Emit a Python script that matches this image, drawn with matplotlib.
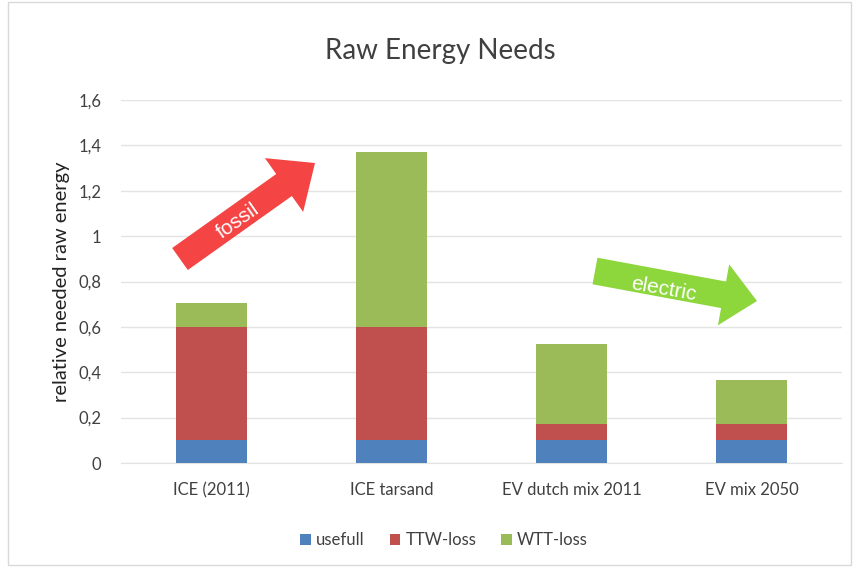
import matplotlib
matplotlib.use("Agg")
import matplotlib.pyplot as plt
import matplotlib.patches as mpatches
import numpy as np

plt.rcParams['font.family'] = ['Lato', 'DejaVu Sans']

categories = ["ICE (2011)", "ICE tarsand", "EV dutch mix 2011", "EV mix 2050"]
usefull = [0.10, 0.10, 0.10, 0.10]
ttw_loss = [0.50, 0.50, 0.07, 0.07]
wtt_loss = [0.105, 0.77, 0.355, 0.195]
series_names = ["usefull", "TTW-loss", "WTT-loss"]
colors = ["#4F81BD", "#C0504D", "#9BBB59"]
yticks = [0, 0.2, 0.4, 0.6, 0.8, 1.0, 1.2, 1.4, 1.6]
ytick_labels = ["0", "0,2", "0,4", "0,6", "0,8", "1", "1,2", "1,4", "1,6"]

W, H = 859, 571
fig = plt.figure(figsize=(W / 100, H / 100), dpi=100)
fig.patch.set_facecolor("white")

ax = fig.add_axes([121 / W, 1 - 463 / H, 721 / W, 363 / H])
x = np.arange(len(categories))
bw = 0.395
b1 = ax.bar(x, usefull, bw, color=colors[0], label=series_names[0], zorder=3)
b2 = ax.bar(x, ttw_loss, bw, bottom=usefull, color=colors[1], label=series_names[1], zorder=3)
bottom2 = np.array(usefull) + np.array(ttw_loss)
b3 = ax.bar(x, wtt_loss, bw, bottom=bottom2, color=colors[2], label=series_names[2], zorder=3)

ax.set_xlim(-0.5, len(categories) - 0.5)
ax.set_ylim(0, 1.6)
ax.set_yticks(yticks)
ax.set_yticklabels(ytick_labels, fontsize=12, color="#404040")
ax.set_xticks(x)
ax.set_xticklabels(categories, fontsize=12, color="#404040")
ax.tick_params(axis="both", length=0)
ax.tick_params(axis="x", pad=14)
ax.tick_params(axis="y", pad=14)
ax.grid(axis="y", color="#e3e3e3", linewidth=1, zorder=0)
for s in ["top", "right", "left"]:
    ax.spines[s].set_visible(False)
ax.spines["bottom"].set_color("#e3e3e3")
ax.set_ylabel("relative needed raw energy", fontsize=14.5, color="#222222", labelpad=6)

fig.text(440 / W, 1 - 51 / H, "Raw Energy Needs", ha="center", va="center",
         fontsize=20, color="#404040")

leg = fig.legend(handles=[b1, b2, b3], labels=series_names, loc="center",
                 bbox_to_anchor=(444 / W, 1 - 540 / H), ncol=3, frameon=False,
                 fontsize=12, handlelength=0.65, handleheight=0.65,
                 columnspacing=1.5, handletextpad=0.3)
for t in leg.get_texts():
    t.set_color("#404040")

# overlay for annotation arrows (pixel coordinates)
ov = fig.add_axes([0, 0, 1, 1], zorder=5)
ov.set_xlim(0, W)
ov.set_ylim(H, 0)
ov.axis("off")
ov.patch.set_alpha(0)

ov.add_patch(mpatches.Rectangle((8, 2), 843, 563, fill=False, edgecolor="#d9d9d9", linewidth=1))

# red "fossil" arrow
rx0, ry0, rx1, ry1 = 180, 259, 315, 163
ov.add_patch(mpatches.FancyArrow(rx0, ry0, rx1 - rx0, ry1 - ry0, width=27,
                                 head_width=66, head_length=38,
                                 length_includes_head=True, color="#F54444", ec="none"))
ov.text(238, 221, "fossil", rotation=35, color="white", fontsize=15,
        ha="center", va="center", family=["Liberation Sans", "DejaVu Sans"])

# green "electric" arrow
gx0, gy0, gx1, gy1 = 595, 271, 757, 301
ov.add_patch(mpatches.FancyArrow(gx0, gy0, gx1 - gx0, gy1 - gy0, width=27,
                                 head_width=62, head_length=34,
                                 length_includes_head=True, color="#8DD63C", ec="none"))
ov.text(664, 289, "electric", rotation=-10, color="white", fontsize=15,
        ha="center", va="center", family=["Liberation Sans", "DejaVu Sans"])

fig.savefig("out.png", dpi=100)
